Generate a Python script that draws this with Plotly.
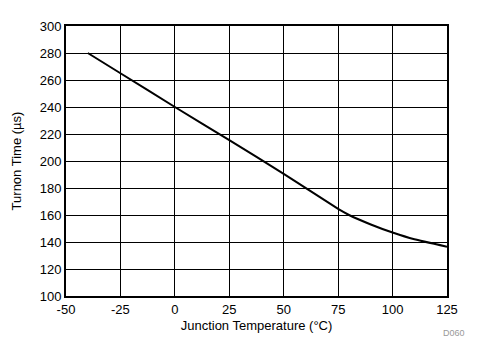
import plotly.graph_objects as go

temp_c = [-40, -25, 0, 25, 50, 75, 80, 90, 100, 110, 125]
turnon_us = [280, 265, 240, 215.5, 190.5, 164.5, 160, 153, 147, 142, 136.5]

x_ticks = [-50, -25, 0, 25, 50, 75, 100, 125]
x_ticklabels = ["-50", "-25", "0", "25", "50", "75", "100", "125"]
y_ticks = [100, 120, 140, 160, 180, 200, 220, 240, 260, 280, 300]

FONT = "Liberation Sans, Arial"

fig = go.Figure()
fig.add_trace(go.Scatter(x=temp_c, y=turnon_us, mode="lines",
                         line=dict(color="black", width=2, shape="spline", smoothing=0.4),
                         showlegend=False, hoverinfo="skip"))

axis_common = dict(showgrid=True, gridcolor="black", gridwidth=1,
                   showline=True, linecolor="black", linewidth=2, mirror=True,
                   zeroline=False, ticks="", automargin=False,
                   tickfont=dict(family=FONT, size=13, color="black"))

fig.update_xaxes(range=[-50, 125], tickvals=x_ticks, ticktext=x_ticklabels,
                 title=dict(text="Junction Temperature (°C)", font=dict(family=FONT, size=13, color="black"), standoff=5),
                 **axis_common)
fig.update_yaxes(range=[100, 300], tickvals=y_ticks,
                 title=dict(text="Turnon Time (µs)", font=dict(family=FONT, size=13, color="black"), standoff=15),
                 **axis_common)

fig.add_annotation(text="D060", xref="paper", yref="paper", x=1.053, y=-0.137,
                   showarrow=False, font=dict(family=FONT, size=9, color="#999999"),
                   xanchor="right", yanchor="middle")

# page body has an 8px margin, so the figure is sized/offset to compensate
fig.update_layout(width=477, height=354, margin=dict(l=58, r=38, t=18, b=66),
                  plot_bgcolor="white", paper_bgcolor="white")

fig.write_html("out.html")
